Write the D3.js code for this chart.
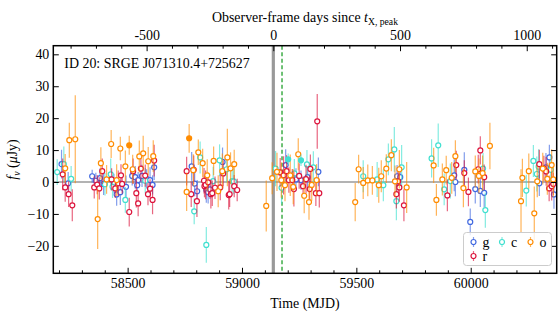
<!DOCTYPE html>
<html>
<head>
<meta charset="utf-8">
<script src="https://cdn.jsdelivr.net/npm/d3@7"></script>
<style>
  body { margin: 0; background: #fff; }
  svg text { font-family: "Liberation Serif", "Times New Roman", serif; fill: #000; }
</style>
</head>
<body>
<svg id="chart" width="560" height="320"></svg>
<script>
(function () {
  'use strict';

  // ZTF/ATLAS forced photometry, flux in uJy
  var gMjd = [58211, 58240, 58345, 58361, 58379, 58395, 58440, 58452, 58468, 58493, 58520, 58533, 58542, 58546, 58563, 58583, 58598, 58609, 58616, 58780, 58793, 58804, 58844, 58852, 58860, 58915, 59191, 59236, 59258, 59287, 59334, 59678, 59692, 59928, 59933, 59972, 59998, 60020, 60042, 60059, 60300, 60329, 60344, 60364];
  var gFlux = [5.6, -0.4, 1.8, 0.4, 1.2, -0.6, -0.4, -3.9, -3.2, -1.5, 1.9, 1.5, -1.0, 0.6, 1.9, 1.0, 0.6, -0.9, 4.6, 4.9, -0.5, -2.9, -2.5, -3.2, -2.3, 6.3, 5.3, 0.8, 0.6, 1.5, 3.2, 1.8, 1.5, 2.1, 0.0, 3.8, -12.5, -2.2, -2.8, -3.4, -0.4, 4.6, 7.7, -3.9];
  var gErr = [4.5, 3.5, 2.0, 2.5, 3.0, 3.5, 3.0, 3.5, 4.0, 3.5, 3.0, 3.5, 3.0, 2.5, 3.5, 3.0, 4.0, 3.0, 4.0, 4.5, 4.0, 3.5, 4.0, 3.5, 3.0, 4.5, 5.0, 3.5, 3.0, 4.0, 4.5, 3.5, 4.0, 5.0, 4.5, 5.5, 4.2, 4.5, 5.0, 4.5, 4.0, 4.5, 4.0, 4.5];

  var rMjd = [58216, 58227, 58242, 58258, 58354, 58367, 58376, 58389, 58430, 58446, 58459, 58471, 58476, 58507, 58524, 58538, 58546, 58558, 58577, 58589, 58598, 58609, 58616, 58758, 58778, 58789, 58803, 58834, 58836, 58841, 58852, 58864, 58870, 58882, 58905, 58918, 58942, 58946, 58966, 58979, 59167, 59182, 59195, 59205, 59220, 59227, 59250, 59267, 59280, 59296, 59299, 59323, 59329, 59338, 59675, 59683, 59688, 59708, 59898, 59937, 59972, 59990, 60033, 60042, 60059, 60300, 60320, 60330, 60343, 60354, 60361];
  var rFlux = [2.4, -1.7, -3.8, -7.3, -1.7, -0.8, -2.0, 3.4, 0.8, -2.0, -0.4, 2.1, -0.6, -9.4, 3.4, -3.5, -6.7, 4.2, 2.0, -3.8, -2.1, -5.6, 6.7, 3.4, -3.8, 3.8, -6.0, 0.4, -1.3, -0.9, -0.1, -3.8, -3.5, -1.8, -1.7, 2.7, -4.1, -3.8, -1.3, -2.5, 3.0, 2.1, 3.4, 0.6, 0.6, -2.2, 1.9, -1.3, 0.9, -2.2, 4.1, -3.5, 19.0, -3.5, -3.8, 0.2, -1.7, -7.3, -4.2, 5.3, 2.8, -3.1, 4.0, 9.9, 1.5, 5.6, 4.2, 3.3, -2.0, -1.3, -0.6];
  var rErr = [5.0, 4.5, 4.0, 5.0, 3.5, 3.0, 3.5, 4.0, 3.5, 3.0, 4.0, 3.5, 3.0, 4.5, 4.0, 4.5, 4.0, 4.0, 3.5, 3.5, 3.0, 4.5, 5.0, 4.5, 4.0, 4.5, 5.0, 4.0, 3.5, 4.5, 3.0, 4.5, 4.0, 3.5, 4.0, 4.0, 4.5, 4.0, 3.5, 3.5, 4.5, 6.0, 5.0, 4.0, 3.5, 5.5, 4.0, 3.0, 4.5, 4.0, 4.5, 4.0, 8.6, 4.5, 4.5, 4.0, 4.5, 5.0, 5.0, 4.5, 4.0, 4.5, 4.5, 4.4, 4.0, 4.5, 4.0, 4.5, 4.0, 4.5, 3.5];

  var cMjd = [58192, 58221, 58253, 58401, 58426, 58434, 58490, 58577, 58791, 58817, 58844, 58874, 58902, 58933, 58957, 58964, 59147, 59173, 59229, 59284, 59312, 59530, 59591, 59618, 59640, 59666, 59675, 59698, 59829, 59858, 59884, 59911, 60054, 60064, 60243, 60274, 60289, 60297, 60350];
  var cFlux = [3.1, 5.6, 1.0, -0.7, 2.4, -1.5, -5.6, 0.4, -9.2, 7.7, -19.7, 0.3, 6.8, 4.0, 0.3, 0.2, 4.2, -1.8, 2.7, 5.5, 4.6, 1.8, 0.8, -1.0, 7.1, 10.2, -6.0, 4.6, 7.4, 11.5, -2.3, 0.3, 4.2, -8.8, -2.7, 6.6, 2.5, 4.8, 3.8];
  var cErr = [4.0, 5.5, 4.0, 3.5, 5.0, 3.5, 4.0, 4.0, 4.0, 5.0, 5.6, 4.5, 5.0, 4.0, 3.5, 4.0, 5.5, 5.0, 4.5, 4.5, 5.0, 5.0, 5.5, 5.0, 5.0, 7.0, 6.0, 7.0, 6.0, 6.8, 5.0, 5.5, 5.0, 5.5, 5.0, 5.0, 5.5, 5.5, 5.0];
  var cDetMjd = [59202, 59258];
  var cDetFlux = [7.1, 6.8];
  var cDetErr = [1.8, 1.8];

  var oMjd = [58227, 58245, 58271, 58369, 58383, 58408, 58428, 58452, 58468, 58490, 58522, 58551, 58568, 58590, 58612, 58758, 58787, 58809, 58828, 58848, 58876, 58896, 58914, 58936, 58950, 58966, 59106, 59132, 59153, 59172, 59188, 59211, 59224, 59246, 59272, 59293, 59305, 59326, 59495, 59510, 59530, 59550, 59570, 59598, 59609, 59631, 59653, 59669, 59688, 59720, 59838, 59850, 59876, 59893, 59917, 59933, 59968, 60020, 60036, 60052, 60084, 60220, 60226, 60254, 60278, 60291, 60315, 60335, 60354, 60361];
  var oFlux = [4.3, 13.1, 13.4, -11.6, 5.9, 0.8, 11.9, 0.6, 10.5, 4.9, 4.0, 8.0, 9.0, 6.5, 8.1, -3.1, 3.7, 9.3, 5.9, 2.1, 6.6, -2.9, 3.4, 7.7, 4.3, 5.6, -7.5, 1.2, 3.2, 0.6, -1.0, 2.1, -1.5, 8.7, -4.3, -6.3, -0.9, 0.6, -6.3, 4.0, -0.3, 0.5, 0.5, -1.0, 1.8, 4.2, 8.4, 0.2, 4.0, -1.7, 5.2, -5.6, 0.8, 3.7, 1.3, 8.1, -1.9, 3.3, 1.9, 2.8, 11.3, -6.0, 1.3, 3.4, -9.8, 0.2, 4.2, 1.0, 5.3, 0.8];
  var oErr = [4.5, 5.5, 13.8, 9.4, 5.0, 4.5, 4.4, 5.0, 3.7, 5.0, 4.5, 5.0, 5.5, 4.5, 5.0, 6.0, 5.0, 4.0, 4.5, 5.0, 4.5, 5.0, 5.5, 9.0, 5.0, 4.5, 8.0, 5.0, 6.0, 5.5, 5.0, 6.5, 5.5, 5.0, 5.5, 5.5, 5.0, 5.0, 6.0, 4.5, 5.0, 5.0, 4.5, 5.5, 5.0, 4.5, 5.0, 5.0, 6.0, 8.0, 5.5, 5.0, 5.0, 4.5, 5.0, 5.0, 6.0, 5.0, 5.5, 5.5, 7.3, 10.0, 6.0, 5.5, 8.4, 5.0, 5.0, 5.0, 5.0, 5.5];
  var oDetMjd = [58507, 58769];
  var oDetFlux = [11.5, 13.7];
  var oDetErr = [3.0, 4.5];

  var mjdDomain = [58175, 60376];
  var fluxDomain = [-28.6, 42.7];
  var mjdTicks = [58500, 59000, 59500, 60000];
  var fluxTicks = [-20, -10, 0, 10, 20, 30, 40];
  var dayTicks = [-500, 0, 500, 1000];
  var tPeak = 59137;      // MJD of X-ray peak
  var tOptical = 59175;   // green dashed marker
  var dayFactor = 1.108;

  var colors = { g: '#4169e1', c: '#40e0d0', o: '#ff8c00', r: '#dc143c' };

  var W = 560, H = 320;
  var margin = { top: 45.7, right: 3.3, bottom: 46.7, left: 53.3 };
  var iw = W - margin.left - margin.right;
  var ih = H - margin.top - margin.bottom;

  var svg = d3.select('#chart');
  var g = svg.append('g').attr('transform', 'translate(' + margin.left + ',' + margin.top + ')');

  var x = d3.scaleLinear().domain(mjdDomain).range([0, iw]);
  var y = d3.scaleLinear().domain(fluxDomain).range([ih, 0]);
  var xTop = d3.scaleLinear()
    .domain([(mjdDomain[0] - tPeak) / dayFactor, (mjdDomain[1] - tPeak) / dayFactor])
    .range([0, iw]);

  // reference lines
  g.append('line')
    .attr('x1', 0).attr('x2', iw).attr('y1', y(0)).attr('y2', y(0))
    .attr('stroke', '#b3b3b3').attr('stroke-width', 2);
  g.append('line')
    .attr('x1', x(tPeak)).attr('x2', x(tPeak)).attr('y1', 0).attr('y2', ih)
    .attr('stroke', '#999').attr('stroke-width', 3.2);
  g.append('line')
    .attr('x1', x(tOptical)).attr('x2', x(tOptical)).attr('y1', 0).attr('y2', ih)
    .attr('stroke', '#22a02c').attr('stroke-width', 1.3).attr('stroke-dasharray', '4,2.5');

  function zip(mjd, flux, err) {
    return mjd.map(function (m, i) { return { mjd: m, flux: flux[i], err: err[i] }; });
  }

  function drawBand(pts, color, filled) {
    var layer = g.append('g');
    layer.selectAll('line').data(pts).enter().append('line')
      .attr('x1', function (d) { return x(d.mjd); })
      .attr('x2', function (d) { return x(d.mjd); })
      .attr('y1', function (d) { return y(d.flux - d.err); })
      .attr('y2', function (d) { return y(d.flux + d.err); })
      .attr('stroke', color).attr('stroke-opacity', 0.65).attr('stroke-width', 1.2);
    layer.selectAll('circle').data(pts).enter().append('circle')
      .attr('cx', function (d) { return x(d.mjd); })
      .attr('cy', function (d) { return y(d.flux); })
      .attr('r', 2.5)
      .attr('fill', filled ? color : '#fff')
      .attr('stroke', color).attr('stroke-width', 1.2);
  }

  drawBand(zip(gMjd, gFlux, gErr), colors.g, false);
  drawBand(zip(cMjd, cFlux, cErr), colors.c, false);
  drawBand(zip(rMjd, rFlux, rErr), colors.r, false);
  drawBand(zip(oMjd, oFlux, oErr), colors.o, false);
  drawBand(zip(cDetMjd, cDetFlux, cDetErr), colors.c, true);
  drawBand(zip(oDetMjd, oDetFlux, oDetErr), colors.o, true);

  // axes: ticks pointing inward
  function styleAxis(sel) {
    sel.attr('font-family', null).attr('font-size', null);
    sel.select('.domain').remove();
    sel.selectAll('line').attr('stroke', '#000').attr('stroke-width', 1);
    sel.selectAll('text').attr('font-size', '13.9px');
  }

  var minorMjd = d3.range(58200, 60400, 100).filter(function (v) { return mjdTicks.indexOf(v) < 0; });
  var minorDays = d3.range(-800, 1200, 100).filter(function (v) { return dayTicks.indexOf(v) < 0; });

  g.append('g').attr('transform', 'translate(0,' + ih + ')')
    .call(d3.axisBottom(x).tickValues(minorMjd).tickSize(-3).tickFormat(''))
    .call(styleAxis);
  g.append('g').attr('transform', 'translate(0,' + ih + ')')
    .call(d3.axisBottom(x).tickValues(mjdTicks).tickSize(-5.5).tickPadding(5).tickFormat(d3.format('d')))
    .call(styleAxis);

  g.append('g')
    .call(d3.axisTop(xTop).tickValues(minorDays).tickSize(-3).tickFormat(''))
    .call(styleAxis);
  g.append('g')
    .call(d3.axisTop(xTop).tickValues(dayTicks).tickSize(-5.5).tickPadding(6)
      .tickFormat(function (d) { return d < 0 ? '-' + Math.abs(d) : d; }))
    .call(styleAxis);

  g.append('g')
    .call(d3.axisLeft(y).tickValues(fluxTicks).tickSize(-5.5).tickPadding(4)
      .tickFormat(function (d) { return d < 0 ? '\u2212' + Math.abs(d) : d; }))
    .call(styleAxis);
  g.append('g').attr('transform', 'translate(' + iw + ',0)')
    .call(d3.axisRight(y).tickValues(fluxTicks).tickSize(-5.5).tickFormat(''))
    .call(styleAxis);

  g.append('rect')
    .attr('width', iw).attr('height', ih)
    .attr('fill', 'none').attr('stroke', '#000').attr('stroke-width', 1.5);

  // labels
  g.append('text')
    .attr('x', 11).attr('y', 22.6)
    .attr('font-size', '13.9px')
    .text('ID 20: SRGE J071310.4+725627');

  svg.append('text')
    .attr('x', margin.left + iw / 2).attr('y', 308)
    .attr('text-anchor', 'middle').attr('font-size', '13.9px')
    .text('Time (MJD)');

  var topTitle = svg.append('text')
    .attr('x', margin.left + iw / 2).attr('y', 21.5)
    .attr('text-anchor', 'middle').attr('font-size', '13.9px');
  topTitle.append('tspan').text('Observer-frame days since ');
  topTitle.append('tspan').attr('font-style', 'italic').text('t');
  topTitle.append('tspan').attr('font-size', '9.7px').attr('dy', 3).text('X, peak');

  var yLabel = svg.append('text')
    .attr('transform', 'translate(17,' + (margin.top + ih / 2) + ') rotate(-90)')
    .attr('text-anchor', 'middle').attr('font-size', '13.9px');
  yLabel.append('tspan').attr('font-style', 'italic').text('f');
  yLabel.append('tspan').attr('font-style', 'italic').attr('font-size', '9.7px').attr('dy', 3).text('\u03bd');
  yLabel.append('tspan').attr('dy', -3).text(' (');
  yLabel.append('tspan').attr('font-style', 'italic').text('\u03bc');
  yLabel.append('tspan').text('Jy)');

  // legend
  var legendBands = [
    { key: 'g', col: 0, row: 0 },
    { key: 'c', col: 1, row: 0 },
    { key: 'o', col: 2, row: 0 },
    { key: 'r', col: 0, row: 1 }
  ];
  var legend = svg.append('g').attr('transform', 'translate(463.5,232.5)');
  legend.append('rect')
    .attr('width', 88).attr('height', 33).attr('rx', 3)
    .attr('fill', '#fff').attr('fill-opacity', 0.8)
    .attr('stroke', '#ccc').attr('stroke-width', 1);
  var items = legend.selectAll('g.item').data(legendBands).enter().append('g')
    .attr('transform', function (d) { return 'translate(' + (10 + d.col * 28.5) + ',' + (9.5 + d.row * 14) + ')'; });
  items.append('line')
    .attr('y1', -5).attr('y2', 5)
    .attr('stroke', function (d) { return colors[d.key]; })
    .attr('stroke-opacity', 0.65).attr('stroke-width', 1.2);
  items.append('circle')
    .attr('r', 2.5).attr('fill', '#fff')
    .attr('stroke', function (d) { return colors[d.key]; }).attr('stroke-width', 1.2);
  items.append('text')
    .attr('x', 9).attr('y', 4.5).attr('font-size', '13.9px')
    .text(function (d) { return d.key; });
})();
</script>
</body>
</html>
